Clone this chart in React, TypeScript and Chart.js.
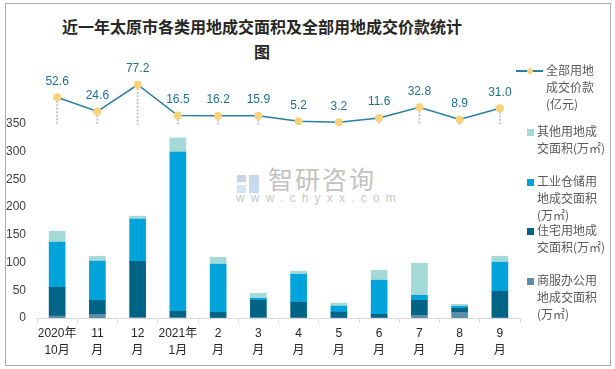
import React, { useEffect, useRef } from "react";
import { Chart, registerables } from "chart.js";

Chart.register(...registerables);

const categories: string[][] = [
  ["2020年", "10月"], ["11", "月"], ["12", "月"], ["2021年", "1月"], ["2", "月"], ["3", "月"],
  ["4", "月"], ["5", "月"], ["6", "月"], ["7", "月"], ["8", "月"], ["9", "月"],
];
const commercialArea = [3.6, 6.6, 1.2, 1.2, 0.3, 1.2, 0.5, 0.3, 0.4, 4.8, 10.2, 0.5];
const residentialArea = [51.8, 25.3, 101.2, 10.8, 9.9, 30.8, 27.8, 10.2, 6.2, 27.1, 7.3, 47.7];
const industrialArea = [81.3, 70.5, 75.9, 287.4, 86.8, 3.5, 50.6, 10.9, 61.5, 9.1, 3.6, 52.4];
const otherArea = [19.9, 9.0, 5.4, 25.3, 12.6, 9.1, 5.4, 5.4, 18.0, 57.8, 3.6, 10.8];
const totalPrice = [52.6, 24.6, 77.2, 16.5, 16.2, 15.9, 5.2, 3.2, 11.6, 32.8, 8.9, 31.0];
const yTicks = [0, 50, 100, 150, 200, 250, 300, 350];

const FONT = "'Liberation Sans','Noto Sans CJK SC',sans-serif";
const CJK = "'Noto Sans CJK SC','Liberation Sans',sans-serif";

// layout constants
const AREA_TOP = 74;
const AREA_BOTTOM = 318;
const AREA_LEFT = 37;
const AREA_RIGHT = 520;
const Y_MAX = 440;
const BAR_K = (AREA_BOTTOM - AREA_TOP) / Y_MAX;
const LINE_K = 0.507;
const ZERO_Y = AREA_BOTTOM - 350 * BAR_K;
const Y2_MIN = -(AREA_BOTTOM - ZERO_Y) / LINE_K;
const Y2_MAX = (ZERO_Y - AREA_TOP) / LINE_K;

const C_OTHER = "#A3D9D6";
const C_IND = "#00A3DA";
const C_RES = "#006487";
const C_COM = "#5B8FA8";
const C_LINE = "#2A7FA0";
const C_PT = "#F7D47C";
const C_LBL = "#1E6E98";

const linePlugin = {
  id: "lineExtras",
  beforeDatasetsDraw(chart: any) {
    const ctx = chart.ctx;
    const meta = chart.getDatasetMeta(4);
    const y0 = chart.scales.y2.getPixelForValue(0);
    ctx.save();
    ctx.strokeStyle = "#C4C4C4";
    ctx.lineWidth = 2;
    ctx.setLineDash([2, 1.5]);
    meta.data.forEach((pt: any) => {
      ctx.beginPath();
      ctx.moveTo(pt.x, pt.y);
      ctx.lineTo(pt.x, y0 + 1);
      ctx.stroke();
    });
    ctx.restore();
  },
  afterDatasetsDraw(chart: any) {
    const ctx = chart.ctx;
    const meta = chart.getDatasetMeta(4);
    ctx.save();
    ctx.fillStyle = C_LBL;
    ctx.font = `12px ${FONT}`;
    ctx.textAlign = "center";
    ctx.textBaseline = "middle";
    meta.data.forEach((pt: any, i: number) => {
      ctx.fillText(totalPrice[i].toFixed(1), pt.x, pt.y - 16);
    });
    ctx.restore();
  },
};

function LegendItem({ top, color, lines, isLine }: { top: number; color: string; lines: string[]; isLine?: boolean }) {
  return (
    <div style={{ position: "absolute", left: 0, top, width: 100 }}>
      {isLine ? (
        <div style={{ position: "absolute", left: 16, top: 8, width: 27, height: 2, background: C_LINE }}>
          <div style={{ position: "absolute", left: 11, top: -2.5, width: 6, height: 6, borderRadius: 3, background: C_PT }} />
        </div>
      ) : (
        <div style={{ position: "absolute", left: 27, top: 6, width: 7, height: 7, background: color }} />
      )}
      <div style={{ position: "absolute", left: isLine ? 46 : 37, top: 0, fontFamily: CJK, fontSize: 12, lineHeight: "16.8px", color: "#595959", whiteSpace: "nowrap" }}>
        {lines.map((l, i) => (
          <div key={i}>{l}</div>
        ))}
      </div>
    </div>
  );
}

export default function App() {
  const ref = useRef<HTMLCanvasElement | null>(null);
  useEffect(() => {
    if (!ref.current) return;
    const mkBar = (label: string, data: number[], color: string) => ({
      type: "bar" as const,
      label,
      data,
      backgroundColor: color,
      yAxisID: "y",
      stack: "area",
      barThickness: 16,
      order: 2,
    });
    const chart = new Chart(ref.current, {
      type: "bar",
      data: {
        labels: categories,
        datasets: [
          mkBar("商服办公用地成交面积(万㎡)", commercialArea, C_COM),
          mkBar("住宅用地成交面积(万㎡)", residentialArea, C_RES),
          mkBar("工业仓储用地成交面积(万㎡)", industrialArea, C_IND),
          mkBar("其他用地成交面积(万㎡)", otherArea, C_OTHER),
          {
            type: "line" as const,
            label: "全部用地成交价款(亿元)",
            data: totalPrice,
            yAxisID: "y2",
            borderColor: C_LINE,
            borderWidth: 1.5,
            pointRadius: 4,
            pointBackgroundColor: C_PT,
            pointBorderColor: C_PT,
            pointBorderWidth: 0,
            tension: 0,
            order: 0,
          } as any,
        ],
      },
      options: {
        animation: false,
        responsive: false,
        maintainAspectRatio: false,
        layout: { padding: { left: 0, right: 615 - AREA_RIGHT, top: AREA_TOP, bottom: 0 } },
        plugins: { legend: { display: false }, tooltip: { enabled: false } },
        scales: {
          x: {
            stacked: true,
            offset: true,
            grid: { display: true, drawOnChartArea: false, offset: true, color: "#D9D9D9", tickLength: 5, drawTicks: true },
            border: { display: true, color: "#D9D9D9", width: 1 },
            ticks: { color: "#262626", font: { family: FONT, size: 12, lineHeight: 1.4 }, padding: 2, maxRotation: 0, autoSkip: false },
            afterFit: (s: any) => { s.height = 369 - AREA_BOTTOM; },
          },
          y: {
            stacked: true,
            min: 0,
            max: Y_MAX,
            grid: { display: false, drawTicks: false },
            border: { display: false },
            ticks: { color: "#404040", font: { family: FONT, size: 12 }, padding: 11 },
            afterBuildTicks: (s: any) => { s.ticks = yTicks.map((v) => ({ value: v })); },
            afterFit: (s: any) => { s.width = AREA_LEFT; },
          },
          y2: {
            display: false,
            min: Y2_MIN,
            max: Y2_MAX,
          },
        },
      },
      plugins: [linePlugin],
    });
    return () => chart.destroy();
  }, []);

  return (
    <div style={{ position: "fixed", left: 0, top: 0, width: 615, height: 369, background: "#fff", overflow: "hidden" }}>
      <div style={{ position: "absolute", left: 5, top: 3, width: 604, height: 361, border: "1px solid #ABABAB" }} />
      <div style={{ position: "absolute", left: 0, top: 14, width: 524, textAlign: "center", fontFamily: CJK, fontWeight: "bold", fontSize: 16, lineHeight: "25px", color: "#262626" }}>
        近一年太原市各类用地成交面积及全部用地成交价款统计<br />图
      </div>
      {/* watermark */}
      <div style={{ position: "absolute", left: 237, top: 175, width: 9, height: 7, background: "#C9D3E3" }} />
      <div style={{ position: "absolute", left: 249, top: 175, width: 10, height: 18, background: "#C9D9EC" }} />
      <div style={{ position: "absolute", left: 237, top: 185, width: 9, height: 8, background: "#D5E4F2" }} />
      <div style={{ position: "absolute", left: 268, top: 163, fontFamily: CJK, fontSize: 25, color: "#C2C2C2", letterSpacing: 2, lineHeight: "30px", whiteSpace: "nowrap" }}>智研咨询</div>
      <div style={{ position: "absolute", left: 236, top: 191, fontFamily: FONT, fontSize: 12, color: "#C8C8C8", letterSpacing: 6.2, lineHeight: "14px", whiteSpace: "nowrap" }}>www.chyxx.com</div>
      <canvas ref={ref} width={615} height={369} style={{ position: "absolute", left: 0, top: 0, width: 615, height: 369 }} />
      <div style={{ position: "absolute", left: 500, top: 0 }}>
        <LegendItem top={62} color={C_LINE} lines={["全部用地", "成交价款", "(亿元)"]} isLine />
        <LegendItem top={123} color={C_OTHER} lines={["其他用地成", "交面积(万㎡)"]} />
        <LegendItem top={173} color={C_IND} lines={["工业仓储用", "地成交面积", "(万㎡)"]} />
        <LegendItem top={222} color={C_RES} lines={["住宅用地成", "交面积(万㎡)"]} />
        <LegendItem top={272} color={C_COM} lines={["商服办公用", "地成交面积", "(万㎡)"]} />
      </div>
    </div>
  );
}
